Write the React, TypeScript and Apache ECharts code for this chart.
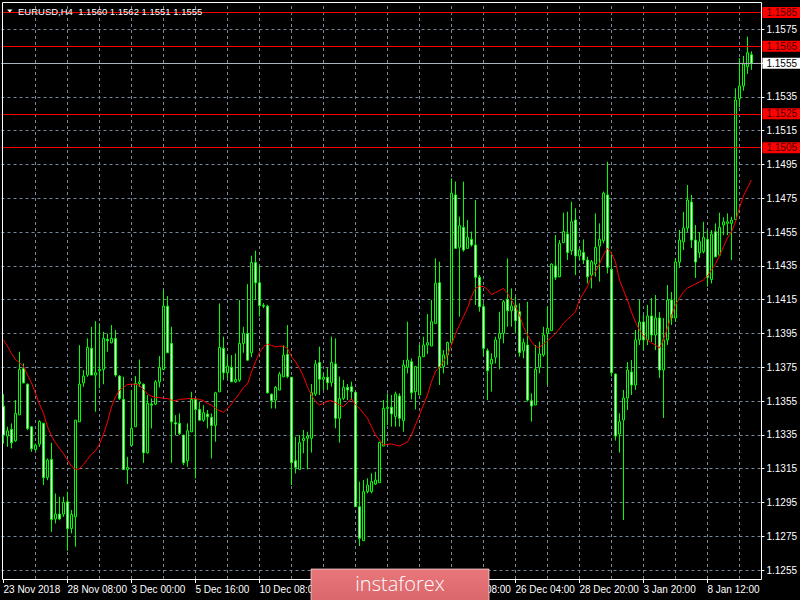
import React, { useEffect, useRef } from "react";
import * as echarts from "echarts";

// ---- data ----
const SYMBOL = "EURUSD,H4";
const categories = Array.from({ length: 190 }, (_, i) => String(i)); // H4 bar slots (188 bars + right shift)

// labels every 16 bars; the two under the watermark are not visible in the chart
const xTickLabels = [
  "23 Nov 2018", "28 Nov 08:00", "3 Dec 00:00", "5 Dec 16:00", "10 Dec 08:00", "",
  "", "20 Dec 08:00", "26 Dec 04:00", "28 Dec 20:00", "3 Jan 20:00", "8 Jan 12:00",
];

const yTickValues = [
  1.1255, 1.1275, 1.1295, 1.1315, 1.1335, 1.1355, 1.1375, 1.1395, 1.1415,
  1.1435, 1.1455, 1.1475, 1.1495, 1.1515, 1.1535, 1.1555, 1.1575,
];

const levelLines = [1.1585, 1.1565, 1.1525, 1.1505];
const bidPrice = 1.1555;

const open = [
  1.13520, 1.13343, 1.13382, 1.13315, 1.13469, 1.13743, 1.13650, 1.13398, 1.13264, 1.13295,
  1.13418, 1.13098, 1.13205, 1.12853, 1.12881, 1.12881, 1.12954, 1.12796, 1.12865, 1.13427,
  1.13658, 1.13704, 1.13862, 1.13704, 1.13729, 1.13737, 1.13915, 1.13895, 1.13921, 1.13698,
  1.13560, 1.13145, 1.13287, 1.13398, 1.13654, 1.13650, 1.13244, 1.13532, 1.13532, 1.13664,
  1.13737, 1.14112, 1.13891, 1.13422, 1.13418, 1.13349, 1.13197, 1.13368, 1.13560, 1.13500,
  1.13437, 1.13473, 1.13453, 1.13406, 1.13605, 1.13862, 1.13718, 1.13749, 1.13664, 1.13674,
  1.13891, 1.13950, 1.13836, 1.14370, 1.14250, 1.14116, 1.14112, 1.13591, 1.13556, 1.13615,
  1.13694, 1.13827, 1.13691, 1.13197, 1.13146, 1.13316, 1.13330, 1.13330, 1.13592, 1.13779,
  1.13679, 1.13691, 1.13659, 1.13770, 1.13448, 1.13566, 1.13631, 1.13635, 1.13602, 1.12925,
  1.12724, 1.13014, 1.13014, 1.13059, 1.13067, 1.13284, 1.13507, 1.13513, 1.13458, 1.13580,
  1.13434, 1.13750, 1.13783, 1.13606, 1.13586, 1.13813, 1.13882, 1.13876, 1.14010, 1.14251,
  1.13754, 1.13823, 1.13896, 1.14770, 1.14460, 1.14578, 1.14454, 1.14507, 1.14474, 1.14283,
  1.14109, 1.13848, 1.13770, 1.13809, 1.13921, 1.13951, 1.14152, 1.14085, 1.14117, 1.14079,
  1.13848, 1.13882, 1.13552, 1.13527, 1.13750, 1.13823, 1.13951, 1.13967, 1.14350, 1.14286,
  1.14488, 1.14539, 1.14440, 1.14622, 1.14409, 1.14429, 1.14385, 1.14296, 1.14361, 1.14468,
  1.14500, 1.14770, 1.14330, 1.13710, 1.13355, 1.13438, 1.13568, 1.13722, 1.13645, 1.13912,
  1.14018, 1.13912, 1.14054, 1.13941, 1.14042, 1.13734, 1.13912, 1.14148, 1.14042, 1.14373,
  1.14492, 1.14574, 1.14728, 1.14503, 1.14428, 1.14434, 1.14507, 1.14270, 1.14552, 1.14414,
  1.14592, 1.14602, 1.14602, 1.14625, 1.15340, 1.15415, 1.15529, 1.15600,
];

const close = [
  1.13349, 1.13374, 1.13303, 1.13477, 1.13737, 1.13658, 1.13388, 1.13268, 1.13289, 1.13429,
  1.13098, 1.13201, 1.12849, 1.12881, 1.12853, 1.12950, 1.12796, 1.12879, 1.13437, 1.13650,
  1.13698, 1.13867, 1.13704, 1.13718, 1.13737, 1.13921, 1.13907, 1.13921, 1.13704, 1.13566,
  1.13145, 1.13157, 1.13388, 1.13654, 1.13664, 1.13244, 1.13536, 1.13526, 1.13664, 1.13749,
  1.14112, 1.13836, 1.13427, 1.13414, 1.13358, 1.13185, 1.13374, 1.13560, 1.13500, 1.13437,
  1.13481, 1.13457, 1.13406, 1.13599, 1.13867, 1.13718, 1.13757, 1.13664, 1.13678, 1.13891,
  1.13950, 1.13792, 1.14370, 1.14250, 1.14116, 1.14112, 1.13599, 1.13552, 1.13631, 1.13710,
  1.13822, 1.13695, 1.13186, 1.13158, 1.13304, 1.13330, 1.13343, 1.13600, 1.13770, 1.13679,
  1.13691, 1.13659, 1.13779, 1.13448, 1.13566, 1.13631, 1.13616, 1.13606, 1.12925, 1.12738,
  1.13014, 1.13053, 1.13073, 1.13083, 1.13304, 1.13507, 1.13513, 1.13474, 1.13592, 1.13448,
  1.13764, 1.13793, 1.13600, 1.13754, 1.13813, 1.13882, 1.13896, 1.14020, 1.14247, 1.13750,
  1.13823, 1.13896, 1.14780, 1.14454, 1.14588, 1.14444, 1.14519, 1.14474, 1.14283, 1.14109,
  1.13862, 1.13730, 1.13797, 1.13912, 1.13951, 1.14138, 1.14085, 1.14113, 1.14026, 1.13837,
  1.13896, 1.13556, 1.13521, 1.13738, 1.13829, 1.13941, 1.13981, 1.14361, 1.14283, 1.14484,
  1.14553, 1.14429, 1.14612, 1.14409, 1.14444, 1.14385, 1.14286, 1.14375, 1.14460, 1.14507,
  1.14780, 1.14342, 1.13718, 1.13343, 1.13428, 1.13568, 1.13734, 1.13645, 1.13912, 1.14018,
  1.13912, 1.14054, 1.13941, 1.14042, 1.13734, 1.13912, 1.14148, 1.14042, 1.14373, 1.14503,
  1.14574, 1.14740, 1.14503, 1.14373, 1.14493, 1.14519, 1.14282, 1.14538, 1.14404, 1.14578,
  1.14611, 1.14611, 1.14621, 1.15332, 1.15415, 1.15545, 1.15612, 1.15550,
];

const high = [
  1.13591, 1.13398, 1.13418, 1.13556, 1.13842, 1.13773, 1.13654, 1.13402, 1.13299, 1.13437,
  1.13422, 1.13210, 1.13303, 1.13003, 1.12984, 1.12984, 1.13013, 1.12905, 1.13437, 1.13881,
  1.13733, 1.13921, 1.13990, 1.14023, 1.14010, 1.13960, 1.13950, 1.14000, 1.13970, 1.13704,
  1.13694, 1.13220, 1.13615, 1.13698, 1.13796, 1.13654, 1.13585, 1.13566, 1.13674, 1.13816,
  1.14207, 1.14171, 1.13990, 1.13467, 1.13477, 1.13349, 1.13418, 1.13605, 1.13566, 1.13546,
  1.13526, 1.13497, 1.13477, 1.13605, 1.14128, 1.13931, 1.13816, 1.13822, 1.13832, 1.14148,
  1.13990, 1.14242, 1.14410, 1.14440, 1.14350, 1.14130, 1.14120, 1.13595, 1.13639, 1.13723,
  1.13881, 1.14000, 1.13691, 1.13339, 1.13349, 1.13379, 1.13369, 1.13651, 1.13793, 1.13872,
  1.13714, 1.13744, 1.13931, 1.13921, 1.13695, 1.13675, 1.13651, 1.13665, 1.13606, 1.13073,
  1.13083, 1.13093, 1.13122, 1.13132, 1.13310, 1.13556, 1.13596, 1.13586, 1.13606, 1.13596,
  1.13793, 1.14020, 1.13803, 1.13758, 1.13882, 1.13931, 1.14065, 1.14148, 1.14395, 1.14375,
  1.13852, 1.13902, 1.14868, 1.14849, 1.14642, 1.14849, 1.14622, 1.14553, 1.14740, 1.14296,
  1.14129, 1.13862, 1.13833, 1.13931, 1.14079, 1.14148, 1.14395, 1.14217, 1.14168, 1.14129,
  1.13921, 1.14138, 1.13596, 1.13882, 1.13902, 1.13990, 1.14109, 1.14365, 1.14533, 1.14503,
  1.14665, 1.14671, 1.14730, 1.14691, 1.14454, 1.14507, 1.14405, 1.14385, 1.14661, 1.14602,
  1.14790, 1.14967, 1.14425, 1.13714, 1.13478, 1.13616, 1.13781, 1.13793, 1.13971, 1.14148,
  1.14060, 1.14119, 1.14160, 1.14178, 1.14077, 1.14042, 1.14237, 1.14196, 1.14397, 1.14563,
  1.14669, 1.14829, 1.14770, 1.14592, 1.14551, 1.14611, 1.14562, 1.14562, 1.14602, 1.14665,
  1.14637, 1.14661, 1.14641, 1.15401, 1.15579, 1.15593, 1.15707, 1.15620,
];

const low = [
  1.13299, 1.13279, 1.13270, 1.13309, 1.13469, 1.13654, 1.13378, 1.13250, 1.13256, 1.13279,
  1.13053, 1.13082, 1.12776, 1.12826, 1.12845, 1.12865, 1.12664, 1.12767, 1.12688, 1.13427,
  1.13635, 1.13694, 1.13704, 1.13487, 1.13625, 1.13650, 1.13842, 1.13891, 1.13694, 1.13556,
  1.13141, 1.13059, 1.13287, 1.13398, 1.13635, 1.13185, 1.13240, 1.13388, 1.13526, 1.13631,
  1.13737, 1.13836, 1.13185, 1.13349, 1.13349, 1.13171, 1.13161, 1.13368, 1.13092, 1.13437,
  1.13427, 1.13388, 1.13210, 1.13309, 1.13605, 1.13674, 1.13684, 1.13664, 1.13658, 1.13664,
  1.13836, 1.13792, 1.13810, 1.14150, 1.14050, 1.14100, 1.13595, 1.13506, 1.13506, 1.13615,
  1.13694, 1.13685, 1.13053, 1.13122, 1.13146, 1.13241, 1.13146, 1.13245, 1.13580, 1.13586,
  1.13616, 1.13616, 1.13635, 1.13389, 1.13304, 1.13556, 1.13556, 1.13556, 1.12925, 1.12692,
  1.12724, 1.13004, 1.13004, 1.13053, 1.13067, 1.13284, 1.13408, 1.13399, 1.13399, 1.13399,
  1.13369, 1.13714, 1.13560, 1.13501, 1.13586, 1.13813, 1.13829, 1.13876, 1.14010, 1.13645,
  1.13714, 1.13764, 1.13896, 1.14454, 1.14050, 1.14434, 1.14454, 1.14464, 1.14119, 1.14079,
  1.13813, 1.13556, 1.13606, 1.13773, 1.13738, 1.13892, 1.13990, 1.13990, 1.13951, 1.13813,
  1.13803, 1.13547, 1.13428, 1.13527, 1.13714, 1.13813, 1.13645, 1.13967, 1.14267, 1.14283,
  1.14484, 1.14385, 1.14415, 1.14296, 1.14385, 1.14361, 1.14247, 1.14217, 1.14286, 1.14257,
  1.14484, 1.14306, 1.13695, 1.13316, 1.13245, 1.12846, 1.13497, 1.13586, 1.13616, 1.13882,
  1.13852, 1.13882, 1.13900, 1.13852, 1.13687, 1.13450, 1.13882, 1.14000, 1.14018, 1.14338,
  1.14444, 1.14551, 1.14456, 1.14279, 1.14397, 1.14424, 1.14227, 1.14246, 1.14400, 1.14414,
  1.14532, 1.14532, 1.14384, 1.14620, 1.15289, 1.15387, 1.15486, 1.15510,
];

const movingAverage = [
  1.13911, 1.13875, 1.13832, 1.13796, 1.13777, 1.13757, 1.13704, 1.13658, 1.13595, 1.13532,
  1.13477, 1.13398, 1.13343, 1.13303, 1.13270, 1.13240, 1.13201, 1.13165, 1.13145, 1.13149,
  1.13175, 1.13205, 1.13236, 1.13256, 1.13295, 1.13354, 1.13427, 1.13516, 1.13575, 1.13615,
  1.13631, 1.13648, 1.13650, 1.13650, 1.13643, 1.13619, 1.13591, 1.13579, 1.13571, 1.13571,
  1.13566, 1.13566, 1.13556, 1.13552, 1.13560, 1.13562, 1.13564, 1.13566, 1.13564, 1.13560,
  1.13552, 1.13536, 1.13526, 1.13506, 1.13493, 1.13485, 1.13506, 1.13532, 1.13566, 1.13595,
  1.13631, 1.13650, 1.13723, 1.13783, 1.13836, 1.13871, 1.13887, 1.13879, 1.13871, 1.13875,
  1.13875, 1.13862, 1.13813, 1.13783, 1.13744,
  1.13695, 1.13635, 1.13586, 1.13547, 1.13527, 1.13537, 1.13549, 1.13552, 1.13541, 1.13527,
  1.13517, 1.13541, 1.13564, 1.13527, 1.13507, 1.13478, 1.13448, 1.13399, 1.13349, 1.13320,
  1.13290, 1.13294, 1.13296, 1.13290, 1.13284, 1.13296, 1.13308, 1.13349, 1.13408, 1.13468,
  1.13527, 1.13586, 1.13665, 1.13724, 1.13750, 1.13783, 1.13823, 1.13882, 1.13947, 1.14000,
  1.14050, 1.14099, 1.14168, 1.14217, 1.14231, 1.14227, 1.14211, 1.14180, 1.14192, 1.14204,
  1.14217, 1.14188, 1.14148, 1.14109, 1.14060, 1.13990, 1.13941, 1.13902, 1.13872, 1.13868,
  1.13888, 1.13906, 1.13927, 1.13951, 1.13977, 1.14010, 1.14034, 1.14054, 1.14079, 1.14148,
  1.14188, 1.14227, 1.14286, 1.14316, 1.14361, 1.14415, 1.14454, 1.14425, 1.14375, 1.14267,
  1.14207, 1.14148, 1.14077, 1.14018, 1.13971, 1.13935, 1.13912, 1.13894, 1.13882, 1.13864,
  1.13912, 1.13983, 1.14054, 1.14119, 1.14160, 1.14196, 1.14219, 1.14231, 1.14243, 1.14255,
  1.14267, 1.14290, 1.14326, 1.14361, 1.14409, 1.14462, 1.14515, 1.14551, 1.14610, 1.14693,
  1.14764, 1.14811, 1.14859,
];

// ---- view settings ----
const FONT = '"Liberation Sans", Arial, sans-serif';
const Y_MIN = 1.12497;
const Y_MAX = 1.15912;
const GRID_COLOR = "#778899";
const LABEL_STEP = 16;
const GRID_STEP = 8;

export default function App() {
  const ref = useRef<HTMLDivElement>(null);

  useEffect(() => {
    if (!ref.current) return;
    const chart = echarts.init(ref.current, null, { renderer: "svg" });

    const candles = open.map((o, i) => [o, close[i], low[i], high[i]]);
    const last = open.length - 1;
    const titleText = `${SYMBOL}  ${open[last].toFixed(4)} ${high[last].toFixed(4)} ${low[last].toFixed(4)} ${close[last].toFixed(4)}`;

    const vGrid: any[] = [];
    for (let i = GRID_STEP; i < categories.length; i += GRID_STEP) {
      vGrid.push({ xAxis: categories[i] });
    }
    const hGrid = yTickValues.map((v) => ({ yAxis: v }));

    const boxLabel = (bg: string, fg: string) => ({
      show: true,
      position: "end",
      distance: 1,
      formatter: (p: any) => Number(p.value).toFixed(4),
      backgroundColor: bg,
      color: fg,
      fontSize: 10,
      fontFamily: FONT,
      lineHeight: 11,
      padding: [0, 3, 0, 4],
    });

    const levelData: any[] = levelLines.map((v) => ({
      yAxis: v,
      lineStyle: { color: "#ff0000", type: "solid", width: 1 },
      label: boxLabel("#ff0000", "#4a0000"),
    }));
    levelData.push({
      yAxis: bidPrice,
      lineStyle: { color: "#aab4be", type: "solid", width: 1 },
      label: boxLabel("#ffffff", "#000000"),
    });

    const option: any = {
      animation: false,
      backgroundColor: "#000000",
      grid: { left: 1.5, right: 38.5, top: 2, bottom: 21, show: false },
      xAxis: {
        type: "category",
        data: categories,
        boundaryGap: true,
        axisLine: { show: false },
        axisTick: {
          show: true,
          interval: (i: number) => i % LABEL_STEP === 0,
          alignWithLabel: true,
          length: 4,
          lineStyle: { color: "#ffffff" },
        },
        axisLabel: {
          interval: (i: number) => i % LABEL_STEP === 0,
          formatter: (_v: string, i: number) => xTickLabels[i / LABEL_STEP] ?? "",
          color: "#ffffff",
          fontSize: 10,
          fontFamily: FONT,
          align: "left",
          margin: 5,
        },
        splitLine: { show: false },
      },
      yAxis: {
        type: "value",
        position: "right",
        min: Y_MIN,
        max: Y_MAX,
        axisLine: { show: false },
        axisTick: {
          show: true,
          customValues: yTickValues,
          length: 3,
          lineStyle: { color: "#ffffff" },
        },
        axisLabel: {
          customValues: yTickValues,
          formatter: (v: number) => v.toFixed(4),
          color: "#ffffff",
          fontSize: 10,
          fontFamily: FONT,
          margin: 5,
        },
        splitLine: { show: false },
      },
      series: [
        {
          name: SYMBOL,
          type: "candlestick",
          data: candles,
          barWidth: 2,
          z: 3,
          silent: true,
          itemStyle: {
            color: "#000000",
            color0: "#ffffff",
            borderColor: "#00ff00",
            borderColor0: "#00ff00",
            borderWidth: 1,
          },
          markLine: {
            silent: true,
            z: 1,
            symbol: ["none", "none"],
            precision: 5,
            label: { show: false },
            lineStyle: { color: GRID_COLOR, type: [3, 3], width: 1 },
            emphasis: { disabled: true },
            data: [...hGrid, ...vGrid],
          },
        },
        {
          name: "MA",
          type: "line",
          data: movingAverage,
          symbol: "none",
          showSymbol: false,
          silent: true,
          z: 4,
          lineStyle: { color: "#ff0000", width: 1 },
          markLine: {
            silent: true,
            z: 6,
            symbol: ["none", "none"],
            precision: 5,
            emphasis: { disabled: true },
            data: levelData,
          },
        },
      ],
      graphic: [
        {
          type: "rect",
          silent: true,
          z: 10,
          shape: { x: 2.5, y: 2.5, width: 759, height: 577 },
          style: { fill: "none", stroke: "#ffffff", lineWidth: 1 },
        },
        {
          type: "polygon",
          silent: true,
          z: 20,
          shape: { points: [[7, 9.5], [12.5, 9.5], [9.75, 12.5]] },
          style: { fill: "#ffffff" },
        },
        {
          type: "text",
          silent: true,
          z: 20,
          x: 18,
          y: 11,
          style: {
            text: titleText,
            fill: "#ffffff",
            fontSize: 9.5,
            fontFamily: FONT,
            verticalAlign: "middle",
          },
        },
        {
          type: "group",
          silent: true,
          z: 30,
          children: [
            {
              type: "rect",
              z: 30,
              shape: { x: 311, y: 569, width: 178, height: 34 },
              style: {
                fill: new echarts.graphic.LinearGradient(0, 0, 0, 1, [
                  { offset: 0, color: "#e8767a" },
                  { offset: 1, color: "#d8666b" },
                ]),
                stroke: "rgba(255,225,225,0.7)",
                lineWidth: 1,
              },
            },
            {
              type: "text",
              z: 31,
              x: 400,
              y: 583,
              style: {
                text: "instaforex",
                fill: "#ffffff",
                fontSize: 20,
                fontWeight: 300,
                fontFamily: '"Open Sans", Lato, sans-serif',
                align: "center",
                verticalAlign: "middle",
              },
            },
          ],
        },
      ],
    };

    chart.setOption(option);
    return () => chart.dispose();
  }, []);

  return (
    <div
      ref={ref}
      style={{ position: "absolute", left: 0, top: 0, width: 800, height: 600, background: "#000" }}
    />
  );
}
